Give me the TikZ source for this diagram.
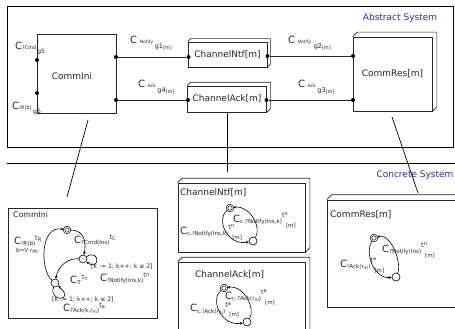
\documentclass[tikz,border=0pt]{standalone}
\usepackage{fontspec}
\setmainfont{DejaVu Sans}
\usetikzlibrary{arrows.meta}
\definecolor{sysblue}{RGB}{45,45,170}
\newcommand{\Cc}{{\fontsize{10}{12}\selectfont C}}
\newcommand{\sbx}[1]{\raisebox{-1.8pt}{\fontsize{5.6}{6}\selectfont #1}}
\newcommand{\sbs}[1]{\raisebox{-1pt}{\fontsize{4.5}{5}\selectfont #1}}
\newcommand{\tup}[2]{\raisebox{3.5pt}{\fontsize{6.5}{7}\selectfont t\raisebox{-1pt}{\fontsize{5}{6}\selectfont #2}}}
\newcommand{\tupr}[1]{\raisebox{3.5pt}{\fontsize{6.5}{7}\selectfont t\raisebox{1.5pt}{\fontsize{5}{6}\selectfont #1}}}
\newcommand{\tmm}[1]{\raisebox{4.5pt}{\rlap{\fontsize{6.5}{7}\selectfont t\raisebox{2pt}{\fontsize{5}{6}\selectfont #1}}}\hspace{4pt}\raisebox{-5pt}{\fontsize{5.5}{6}\selectfont [m]}}
\newcommand{\gport}[1]{\raisebox{-5pt}{\fontsize{6.5}{7}\selectfont g#1\raisebox{-0.5pt}{\fontsize{5}{6}\selectfont [m]}}}
\newcommand{\kexpr}{{\fontsize{6.1}{7}\selectfont [k := 1; k++; k ≤ 2]}}
\newcommand{\threeD}[2]{\draw[line width=0.7pt, draw=black!85] (#1.north west) -- ++(#2,-#2) -- ([shift={(#2,-#2)}]#1.north east) -- ([shift={(#2,-#2)}]#1.south east) -- (#1.south east);}
\begin{document}
\begin{tikzpicture}[x=1pt,y=-1pt,
  box/.style={draw=black!85, line width=0.7pt, fill=white, inner sep=0pt, font=\fontsize{9}{11}\selectfont, text=black!85},
  dot/.style={circle, fill=black, inner sep=0pt, minimum size=4pt},
  lbl/.style={inner sep=0pt, text=black!85, anchor=base west},
  ttl/.style={inner sep=0pt, text=black!85, anchor=base west, font=\fontsize{9}{11}\selectfont},
  st/.style={circle, draw, line width=0.6pt, inner sep=0pt, minimum size=8pt, fill=white},
  ist/.style={circle, draw, line width=0.6pt, inner sep=0pt, minimum size=6pt, fill=white, double, double distance=0.8pt},
  tr/.style={line width=0.6pt, -{Stealth[length=3pt,width=2.6pt]}},
  conn/.style={line width=0.7pt, draw=black!85},
  lead/.style={line width=0.7pt, draw=black}]
\useasboundingbox (0,0) rectangle (455,329);
\fill[white] (0,0) rectangle (455,329);
\clip (0,0) rectangle (455,329);

% ===== Abstract system =====
\draw[line width=0.9pt] (7,6) rectangle (453,147);
\node[text=sysblue, font=\fontsize{9}{11}\selectfont, inner sep=0pt] (abs) at (400,18.5) {Abstract System};

\node[box, minimum width=79pt, minimum height=79pt] (ci) at (76.5,73.5) {};
\node[inner sep=0pt, font=\fontsize{9}{11}\selectfont, text=black!85] (citxt) at (72,76) {CommIni};
\node[box, minimum width=79pt, minimum height=25pt] (cn) at (227.5,54.5) {ChannelNtf[m]};
\threeD{cn}{3}
\node[box, minimum width=79pt, minimum height=26pt] (ca) at (227,99) {ChannelAck[m]};
\threeD{ca}{3.5}
\node[box, minimum width=79pt, minimum height=74pt] (cr) at (392.5,74) {CommRes[m]};
\threeD{cr}{4.5}

\node[dot] (p5) at (37,60) {};
\node[dot] (p6) at (37,93) {};
\node[dot] (p1a) at (116,57) {};
\node[dot] (p1b) at (188.5,57) {};
\node[dot] (p2a) at (267.5,56) {};
\node[dot] (p2b) at (353,56) {};
\node[dot] (p4a) at (116,100) {};
\node[dot] (p4b) at (188,100) {};
\node[dot] (p3a) at (266.5,100) {};
\node[dot] (p3b) at (353,100) {};
\draw[conn] (p1a) -- (p1b);
\draw[conn] (p2a) -- (p2b);
\draw[conn] (p4a) -- (p4b);
\draw[conn] (p3a) -- (p3b);

\node[lbl] (g5) at (15,50) {\Cc\raisebox{0.5pt}{\fontsize{5}{6}\selectfont ?Cmd}\hspace{1pt}\raisebox{-3pt}{\fontsize{6}{7}\selectfont g5}};
\node[lbl] (g6) at (12,110) {\Cc\raisebox{0.5pt}{\fontsize{5}{6}\selectfont !R(b)}\hspace{1.5pt}\raisebox{-3pt}{\fontsize{6}{7}\selectfont g6}};
\node[lbl] (g1) at (130,44) {\Cc\hspace{2.5pt}{\fontsize{4.6}{5}\selectfont Notify}\hspace{1.5pt}\gport{1}};
\node[lbl] (g4) at (138,88) {\Cc\hspace{2.5pt}{\fontsize{4.6}{5}\selectfont Ack}\hspace{1.5pt}\gport{4}};
\node[lbl] (g2) at (288,44) {\Cc\hspace{2.5pt}{\fontsize{4.6}{5}\selectfont Notify}\hspace{2.5pt}\gport{2}};
\node[lbl] (g3) at (298,88) {\Cc\hspace{2.5pt}{\fontsize{4.6}{5}\selectfont Ack}\hspace{1.5pt}\gport{3}};

% ===== separator =====
\coordinate (sepL) at (7,163);
\coordinate (sepR) at (455,163);
\draw[line width=0.8pt] (sepL) -- (sepR);
\node[text=sysblue, font=\fontsize{9}{11}\selectfont, inner sep=0pt] (conc) at (415,175) {Concrete System};

% ===== lower boxes =====
\node[box, minimum width=149pt, minimum height=110pt] (lci) at (82.5,263) {};
\node[ttl, font=\fontsize{7.8}{9}\selectfont] (lcit) at (13,217) {CommIni};

\node[box, minimum width=127pt, minimum height=69pt] (lcn) at (241.5,217.5) {};
\threeD{lcn}{4.5}
\node[ttl] (lcnt) at (180,195) {ChannelNtf[m]};

\node[box, minimum width=127pt, minimum height=80pt] (lca) at (241.5,302) {};
\threeD{lca}{4.5}
\node[ttl] (lcat) at (195,277) {ChannelAck[m]};

\node[box, minimum width=140pt, minimum height=107pt] (lcr) at (397,253.5) {};
\threeD{lcr}{5}
\node[ttl] (lcrt) at (330,217) {CommRes[m]};

% leaders
\coordinate (a1) at (88,120);
\coordinate (b1) at (67,197);
\coordinate (a2) at (227,113);
\coordinate (b2) at (227,172);
\coordinate (a3) at (392,117);
\coordinate (b3) at (418,193);
\draw[lead] (a1) -- (b1);
\draw[lead] (a2) -- (b2);
\draw[lead] (a3) -- (b3);

% ===== CommIni automaton =====
\node[ist] (qi) at (67,230) {};
\node[st] (qa) at (83,259) {};
\node[st] (qb) at (55,283) {};
\draw[tr] (qi) .. controls (86,230) and (86,245) .. (qa);
\draw[tr] (qa) .. controls (68,258) and (58,266) .. (qb);
\draw[tr] (qb) .. controls (40,270) and (40,225) .. (qi);
\draw[tr] (qa) .. controls (100,248) and (100,272) .. (qa);
\draw[tr] (qb) .. controls (48,302) and (76,302) .. (qb);

\node[lbl] (tR) at (14,244) {\Cc\sbx{!R(b)}\tup{t}{R}};
\node[lbl] (bv) at (16,252) {\fontsize{5.6}{6}\selectfont b=V r\raisebox{-1.5pt}{m}};
\node[lbl] (tC) at (74,243) {\Cc\sbx{?Cmd(Ins)}\tup{t}{C}};
\node[lbl] (k1) at (91,268) {\kexpr};
\node[lbl] (tn) at (100,281) {\Cc\sbx{!Notify(Ins,k)}\tupr{n}};
\node[lbl] (tt) at (70,283) {\Cc\raisebox{-1.5pt}{\fontsize{6.5}{7}\selectfont τ}\hspace{1pt}\tup{t}{τ}};
\node[lbl] (k2) at (52,301.5) {\kexpr};
\node[lbl] (ta) at (63,311) {\Cc\sbx{?Ack(k,r\sbs{m})}\tup{t}{a}};

% ===== ChannelNtf automaton =====
\node[ist] (ni) at (230,208) {};
\node[st] (no) at (253,241) {};
\draw[tr] (ni) .. controls +(-15,12) and +(-25,5) .. (no);
\draw[tr] (no) .. controls +(9,-13) and +(20,-3) .. (ni);
\node[lbl] (n1) at (233,222) {\Cc\sbx{c.?Notify(Ins,k)}\tmm{n}};
\node[lbl] (n2) at (180,234) {\Cc\sbx{c.!Notify(Ins,k)}\tmm{n}};

% ===== ChannelAck automaton =====
\node[ist] (ai) at (224,288) {};
\node[st] (ao) at (247,322) {};
\draw[tr] (ai) .. controls +(-15,12) and +(-25,5) .. (ao);
\draw[tr] (ao) .. controls +(9,-13) and +(20,-3) .. (ai);
\node[lbl] (a1l) at (225,299) {\Cc\sbx{c.?Ack(r\sbs{m})}\tmm{a}};
\node[lbl] (a2l) at (190,311.5) {\Cc\sbx{c.!Ack(r\sbs{m})}\tmm{a}};

% ===== CommRes automaton =====
\node[ist] (ri) at (374,238) {};
\node[st] (ro) at (396,277) {};
\draw[tr] (ri) .. controls +(-10,15) and +(-22,2) .. (ro);
\draw[tr] (ro) .. controls +(6,-14) and +(17,-5) .. (ri);
\node[lbl] (r1) at (382,252) {\Cc\sbx{?Notify(Ins)}\tmm{n}};
\node[lbl] (r2) at (340,267) {\Cc\sbx{!Ack(r\sbs{m})}\tmm{a}};
\end{tikzpicture}
\end{document}
